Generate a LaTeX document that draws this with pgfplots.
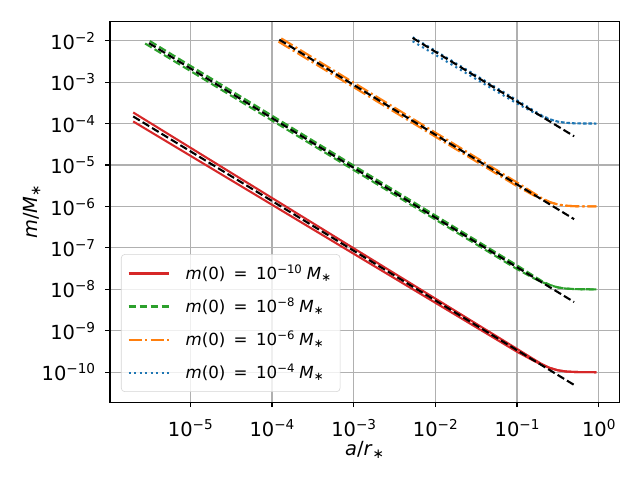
\documentclass[border=0pt]{standalone}
\usepackage{fontspec}
\setmainfont{DejaVu Sans}
\usepackage{pgfplots}
\pgfplotsset{compat=1.18}
\definecolor{tabred}{HTML}{D62728}
\definecolor{tabgreen}{HTML}{2CA02C}
\definecolor{taborange}{HTML}{FF7F0E}
\definecolor{tabblue}{HTML}{1F77B4}
\definecolor{gridgray}{HTML}{B0B0B0}
\newcommand{\sups}[1]{\raisebox{0.36em}{\scalebox{0.7}{#1}}}
\newcommand{\subs}[1]{\raisebox{-0.15em}{\scalebox{0.7}{#1}}}
\newcommand{\logtick}[1]{\pgfmathtruncatemacro\ex{round(#1)}10\sups{\ifnum\ex<0 −\number-\ex\else\number\ex\fi}}
\newcommand{\leg}[1]{\textit{m}(0)\hspace{0.5em}=\hspace{0.5em}10\sups{−#1}\hspace{0.3em}\textit{M}\subs{∗}}
\pgfplotsset{
  redl/.style={color=tabred, line width=1.5pt, solid},
  greenl/.style={color=tabgreen, line width=1.5pt, dash pattern=on 5.55pt off 2.4pt},
  orangel/.style={color=taborange, line width=1.5pt, dash pattern=on 9.6pt off 2.4pt on 1.5pt off 2.4pt},
  bluel/.style={color=tabblue, line width=1.5pt, dash pattern=on 1.5pt off 2.475pt},
  blackd/.style={black, line width=1.5pt, dash pattern=on 5.55pt off 2.4pt},
}
\begin{document}
\begin{tikzpicture}
\useasboundingbox (-79.2pt,-55.9pt) rectangle (381.6pt,289.6pt);
\begin{axis}[
  at={(0pt,0pt)}, anchor=south west,
  scale only axis, width=366.7pt, height=274.3pt,
  xmode=log, ymode=log, log basis x=10, log basis y=10,
  xmin=1.04e-6, xmax=1.786, ymin=1.888e-11, ymax=2.94e-2,
  xtickten={-5,...,0}, ytickten={-10,...,-2},
  xticklabel={\logtick{\tick}}, yticklabel={\logtick{\tick}},
  tick label style={font=\fontsize{14}{16}\selectfont},
  xticklabel style={anchor=base, inner sep=0pt, yshift=-21.4pt},
  yticklabel style={anchor=base east, inner sep=0pt, xshift=-7pt, yshift=-6.2pt},
  label style={font=\fontsize{14}{16}\selectfont},
  xlabel={\textit{a}/\textit{r}\subs{∗}},
  ylabel={\textit{m}/\textit{M}\subs{∗}},
  xlabel style={at={(axis description cs:0.5,-0.141)}, anchor=base},
  ylabel style={at={(axis description cs:-0.1533,0.5)}, anchor=center},
  grid=major, major grid style={color=gridgray, line width=0.8pt},
  axis line style={line width=0.8pt},
  tick align=outside, xtick pos=left, ytick pos=left,
  major tick length=3.5pt, minor tick length=2pt,
  every tick/.style={black, line width=0.8pt},
  every minor tick/.style={black, line width=0.6pt},
  legend cell align=left,
  legend image code/.code={\draw[#1] (0pt,0pt) -- (28.8pt,0pt);},
  legend style={at={(0.0216,0.027)}, anchor=south west,
    draw=black!17, rounded corners=2.5pt, fill=white, fill opacity=0.8, text opacity=1,
    font=\fontsize{12}{14}\selectfont,
    inner xsep=4.5pt, inner ysep=4.7pt, row sep=5.8pt, column sep=9.5pt,
    nodes={inner sep=2pt, text height=11pt, text depth=3pt}},
]
% ---- m(0) = 1e-10
\addplot[redl] coordinates {(2e-6,1.853e-4) (0.1,3.652e-10) (0.1585,2.080e-10) (0.1995,1.588e-10) (0.2512,1.271e-10) (0.3162,1.113e-10) (0.3981,1.041e-10) (0.5012,1.0144e-10) (0.631,1.0048e-10) (0.933,1.0e-10)};
\addlegendentry{\leg{10}}
\addplot[redl, forget plot] coordinates {(2e-6,1.125e-4) (0.1,3.112e-10) (0.1585,1.908e-10) (0.1995,1.528e-10) (0.2512,1.271e-10) (0.3162,1.113e-10) (0.3981,1.041e-10) (0.5012,1.0144e-10) (0.631,1.0048e-10) (0.933,1.0e-10)};
\addplot[blackd, forget plot] coordinates {(2e-6,1.483e-4) (0.5,4.93e-11)};
% ---- m(0) = 1e-8
\addplot[greenl] coordinates {(3.2e-6,9.79e-3) (0.1,3.780e-8) (0.1585,2.126e-8) (0.1995,1.603e-8) (0.2512,1.281e-8) (0.3162,1.113e-8) (0.3981,1.041e-8) (0.5012,1.0144e-8) (0.631,1.0048e-8) (0.933,1.0e-8)};
\addlegendentry{\leg{8}}
\addplot[greenl, forget plot] coordinates {(2.8e-6,8.53e-3) (0.1,3.078e-8) (0.1585,1.867e-8) (0.1995,1.514e-8) (0.2512,1.263e-8) (0.3162,1.113e-8) (0.3981,1.041e-8) (0.5012,1.0144e-8) (0.631,1.0048e-8) (0.933,1.0e-8)};
\addplot[blackd, forget plot] coordinates {(3.12e-6,8.69e-3) (0.5,4.93e-9)};
% ---- m(0) = 1e-6
\addplot[orangel] coordinates {(1.3e-4,1.135e-2) (0.1,3.780e-6) (0.1585,2.126e-6) (0.1995,1.603e-6) (0.2512,1.281e-6) (0.3162,1.113e-6) (0.3981,1.041e-6) (0.5012,1.0144e-6) (0.631,1.0048e-6) (0.933,1.0e-6)};
\addlegendentry{\leg{6}}
\addplot[orangel, forget plot] coordinates {(1.2e-4,9.48e-3) (0.1,3.078e-6) (0.1585,1.867e-6) (0.1995,1.514e-6) (0.2512,1.263e-6) (0.3162,1.113e-6) (0.3981,1.041e-6) (0.5012,1.0144e-6) (0.631,1.0048e-6) (0.933,1.0e-6)};
\addplot[blackd, forget plot] coordinates {(1.23e-4,1.057e-2) (0.5,4.93e-7)};
% ---- m(0) = 1e-4
\addplot[bluel] coordinates {(5.3e-3,1.211e-2) (0.1,3.652e-4) (0.1585,2.080e-4) (0.1995,1.588e-4) (0.2512,1.271e-4) (0.3162,1.113e-4) (0.3981,1.041e-4) (0.5012,1.0144e-4) (0.631,1.0048e-4) (0.933,1.0e-4)};
\addlegendentry{\leg{4}}
\addplot[bluel, forget plot] coordinates {(5.27e-3,9.68e-3) (0.1,3.043e-4) (0.1585,1.867e-4) (0.1995,1.514e-4) (0.2512,1.263e-4) (0.3162,1.113e-4) (0.3981,1.041e-4) (0.5012,1.0144e-4) (0.631,1.0048e-4) (0.933,1.0e-4)};
\addplot[blackd, forget plot] coordinates {(5.27e-3,1.164e-2) (0.5,4.93e-5)};
\end{axis}
\end{tikzpicture}
\end{document}
